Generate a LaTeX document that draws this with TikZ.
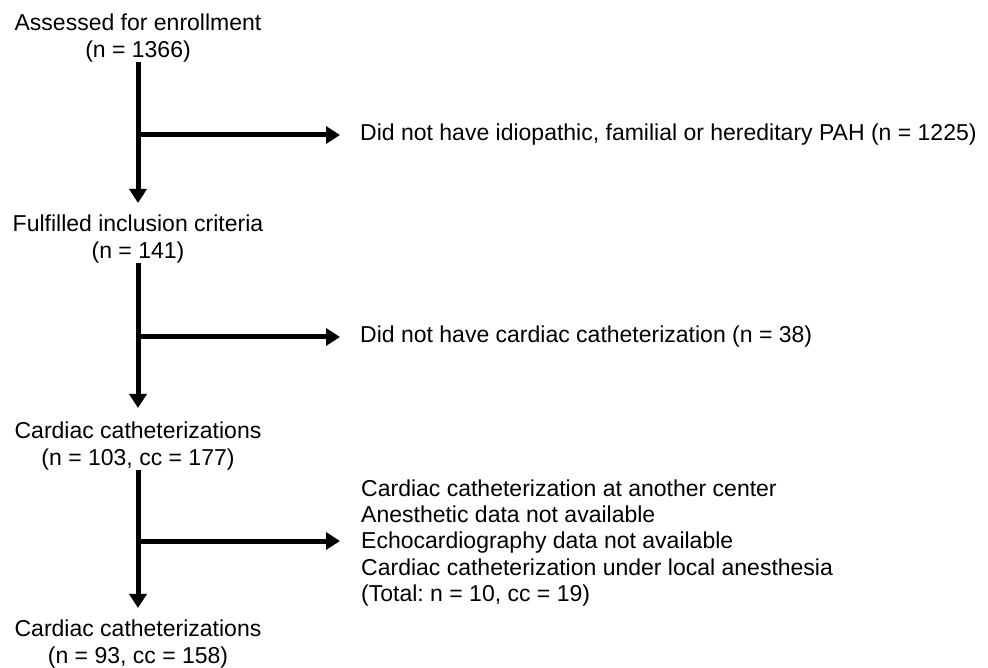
\documentclass[tikz,border=0pt]{standalone}
\usepackage{fontspec}
\setmainfont{Liberation Sans}
\usetikzlibrary{arrows.meta}
\frenchspacing
\begin{document}
\begin{tikzpicture}[x=1pt,y=-1pt,
  txt/.style={inner sep=0pt,font=\fontsize{23}{26.2}\selectfont},
  ctxt/.style={txt,align=center},
  ltxt/.style={txt,align=left,anchor=west},
  arr/.style={line width=5pt,-{Triangle[width=17pt,length=14pt]}}]
\fill[white] (0,0) rectangle (988,668);
\useasboundingbox (0,0) rectangle (988,668);
\node[ctxt] (t1) at (138,38) {Assessed for enrollment\\(n = 1366)};
\node[ctxt] (t2) at (138,239) {Fulfilled inclusion criteria\\(n = 141)};
\node[ctxt] (t3) at (138,446) {Cardiac catheterizations\\(n = 103, cc = 177)};
\node[ctxt] (t4) at (138,644) {Cardiac catheterizations\\(n = 93, cc = 158)};
\node[ltxt] (r1) at (360,135) {Did not have idiopathic, familial or hereditary PAH (n = 1225)};
\node[ltxt] (r2) at (360,337) {Did not have cardiac catheterization (n = 38)};
\node[ltxt] (r3) at (361,543) {Cardiac catheterization at another center\\Anesthetic data not available\\Echocardiography data not available\\Cardiac catheterization under local anesthesia\\(Total: n = 10, cc = 19)};
\coordinate (b1) at (138,135);
\coordinate (b2) at (138,337);
\coordinate (b3) at (138,541);
\draw[arr,shorten <=0pt,shorten >=12pt] (t1.south) -- (t2.north);
\draw[arr,shorten <=0pt,shorten >=14pt] (t2.south) -- (t3.north);
\draw[arr,shorten <=0pt,shorten >=12pt] (t3.south) -- (t4.north);
\draw[arr,shorten >=20pt] (b1) -- (r1.west);
\draw[arr,shorten >=20pt] (b2) -- (r2.west);
\draw[arr,shorten >=21pt] (b3) -- (b3 -| r3.west);
\end{tikzpicture}
\end{document}
